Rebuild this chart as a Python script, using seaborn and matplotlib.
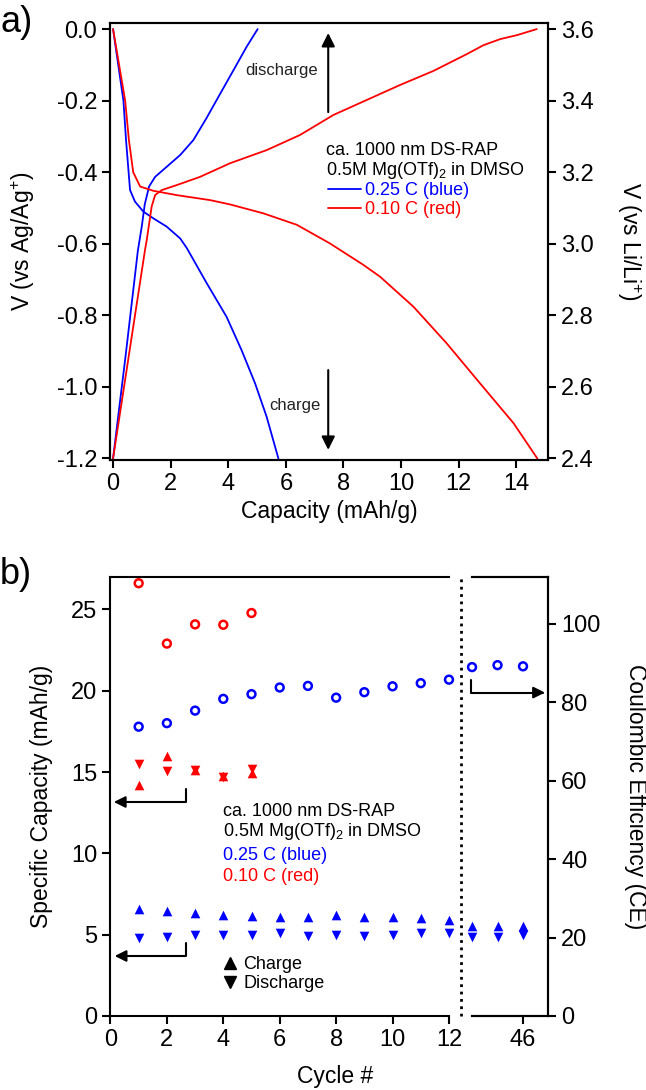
import numpy as np
import pandas as pd
import matplotlib
matplotlib.use("Agg")
import matplotlib.pyplot as plt
from matplotlib.lines import Line2D
import seaborn as sns

# ---- panel a) galvanostatic curves (mAh/g, V vs Ag/Ag+) ----
blue_chg_cap = [0.0, 0.36, 0.45, 0.59, 0.76, 1.05, 1.40, 1.86, 2.33, 2.56, 3.25, 3.94, 4.46, 4.93, 5.33, 5.74]
blue_chg_v = [0.0, -0.20, -0.31, -0.45, -0.482, -0.51, -0.529, -0.552, -0.585, -0.612, -0.71, -0.804, -0.897, -0.99, -1.083, -1.20]
blue_dis_cap = [0.0, 0.44, 0.86, 1.0, 1.1, 1.25, 1.46, 1.86, 2.33, 2.79, 3.25, 3.71, 4.18, 4.64, 5.02]
blue_dis_v = [-1.20, -0.91, -0.62, -0.55, -0.49, -0.44, -0.413, -0.385, -0.352, -0.31, -0.248, -0.182, -0.115, -0.049, 0.0]
red_chg_cap = [0.0, 0.42, 0.55, 0.70, 0.94, 1.40, 2.21, 3.37, 4.06, 5.22, 6.38, 7.53, 8.69, 9.27, 10.43, 11.58, 12.74, 13.90, 14.73]
red_chg_v = [0.0, -0.20, -0.31, -0.40, -0.44, -0.452, -0.464, -0.478, -0.49, -0.515, -0.547, -0.599, -0.659, -0.692, -0.776, -0.878, -0.99, -1.101, -1.20]
red_dis_cap = [0.0, 1.11, 1.17, 1.34, 1.46, 1.69, 2.21, 3.02, 4.06, 5.34, 6.49, 7.65, 8.81, 9.97, 11.12, 12.28, 12.86, 13.44, 14.02, 14.71]
red_dis_v = [-1.20, -0.617, -0.589, -0.496, -0.464, -0.45, -0.436, -0.413, -0.375, -0.338, -0.296, -0.24, -0.198, -0.156, -0.117, -0.07, -0.045, -0.028, -0.017, 0.0]

# ---- panel b) cycling data ----
cycles = list(range(1, 13))
cycles_late = [44, 45, 46]
blue_ce = [73.8, 74.7, 77.9, 80.9, 82.1, 83.8, 84.2, 81.2, 82.6, 84.1, 84.9, 85.8]
blue_ce_late = [89.0, 89.5, 89.2]
blue_charge = [6.55, 6.47, 6.31, 6.2, 6.16, 6.1, 6.1, 6.2, 6.06, 6.06, 6.0, 5.9]
blue_charge_late = [5.55, 5.55, 5.55]
blue_discharge = [4.77, 4.87, 4.97, 4.97, 5.0, 5.08, 4.93, 4.97, 4.91, 4.97, 5.08, 5.08]
blue_discharge_late = [4.87, 4.83, 4.95]
red_cycles = [1, 2, 3, 4, 5]
red_ce = [110.4, 95.0, 99.9, 99.8, 102.8]
red_charge = [14.19, 15.97, 15.15, 14.75, 14.95]
red_discharge = [15.52, 15.07, 15.15, 14.70, 15.2]

v_ag_ticks = ["-1.2", "-1.0", "-0.8", "-0.6", "-0.4", "-0.2", "0.0"]
v_li_ticks = ["2.4", "2.6", "2.8", "3.0", "3.2", "3.4", "3.6"]

BLUE = "#0000ff"
RED = "#ff0000"

sns.set_style("ticks")
plt.rcParams["font.family"] = ["Liberation Sans", "DejaVu Sans"]
plt.rcParams["mathtext.fontset"] = "custom"
plt.rcParams["mathtext.rm"] = "Liberation Sans"
plt.rcParams["mathtext.it"] = "Liberation Sans:italic"
plt.rcParams["axes.unicode_minus"] = False
plt.rcParams["axes.edgecolor"] = "black"
plt.rcParams["axes.linewidth"] = 1.5
plt.rcParams["text.color"] = "black"
plt.rcParams["axes.labelcolor"] = "black"
for k in ["xtick", "ytick"]:
    plt.rcParams[k + ".color"] = "black"
    plt.rcParams[k + ".labelcolor"] = "black"
    plt.rcParams[k + ".major.width"] = 1.5
    plt.rcParams[k + ".major.size"] = 6
    plt.rcParams[k + ".labelsize"] = 17
    plt.rcParams[k + ".direction"] = "out"

fig = plt.figure(figsize=(6.46, 10.9), dpi=100)

# ================= panel a =================
ax_a = fig.add_axes([0.171, 0.5784, 0.6773, 0.4005])
ax_a2 = ax_a.twinx()

sns.lineplot(x=blue_chg_cap, y=blue_chg_v, sort=False, estimator=None, color=BLUE, lw=1.3, ax=ax_a)
sns.lineplot(x=blue_dis_cap, y=blue_dis_v, sort=False, estimator=None, color=BLUE, lw=1.3, ax=ax_a)
sns.lineplot(x=red_chg_cap, y=red_chg_v, sort=False, estimator=None, color=RED, lw=1.3, ax=ax_a)
sns.lineplot(x=red_dis_cap, y=red_dis_v, sort=False, estimator=None, color=RED, lw=1.3, ax=ax_a)

ax_a.set_xlim(-0.09, 15.1)
ax_a.set_ylim(-1.203, 0.017)
ax_a2.set_ylim(-1.203 + 3.6, 0.017 + 3.6)
ax_a.set_xticks(np.arange(0, 15, 2))
ax_a.set_yticks([float(t) for t in v_ag_ticks])
ax_a.set_yticklabels(v_ag_ticks)
ax_a2.set_yticks([float(t) for t in v_li_ticks])
ax_a2.set_yticklabels(v_li_ticks)
ax_a.set_xlabel("Capacity (mAh/g)", fontsize=16.5, labelpad=4)
ax_a.set_ylabel("V (vs Ag/Ag$^{+}$)", fontsize=16.5, labelpad=14)
ax_a2.set_ylabel("V (vs Li/Li$^{+}$)", fontsize=16.5, rotation=270, va="bottom", labelpad=15)

# arrows and notes
ax_a.annotate("", xy=(7.47, -0.011), xytext=(7.47, -0.232),
              arrowprops=dict(arrowstyle="-|>", color="k", lw=1.5, mutation_scale=20, shrinkA=0, shrinkB=0))
ax_a.annotate("", xy=(7.47, -1.176), xytext=(7.47, -0.953),
              arrowprops=dict(arrowstyle="-|>", color="k", lw=1.5, mutation_scale=20, shrinkA=0, shrinkB=0))
ax_a.text(7.12, -0.117, "discharge", ha="right", va="center", fontsize=12, color="#222222")
ax_a.text(7.19, -1.053, "charge", ha="right", va="center", fontsize=12, color="#222222")
ax_a.text(7.40, -0.338, "ca. 1000 nm DS-RAP", ha="left", va="center", fontsize=13)
ax_a.text(7.40, -0.394, "0.5M Mg(OTf)$_2$ in DMSO", ha="left", va="center", fontsize=13)
handles = [Line2D([], [], color=BLUE, lw=1.3), Line2D([], [], color=RED, lw=1.3)]
ax_a.legend(handles, ["0.25 C (blue)", "0.10 C (red)"], labelcolor=[BLUE, RED], frameon=False,
            loc="upper left", bbox_to_anchor=(7.47, -0.428), bbox_transform=ax_a.transData,
            borderpad=0, borderaxespad=0, handlelength=1.8, handletextpad=0.25,
            labelspacing=0.12, fontsize=13)

# ================= panel b =================
ax_l = fig.add_axes([0.171, 0.0679, 0.5240, 0.4028])
ax_r = fig.add_axes([0.7307, 0.0679, 0.1176, 0.4028], sharey=ax_l)
ax_ce_l = ax_l.twinx()
ax_ce_r = ax_r.twinx()

tri = dict(s=48, linewidth=0, clip_on=False, zorder=3)
circ = dict(marker="o", s=32, facecolor="none", linewidth=1.8, clip_on=False, zorder=3)

sns.scatterplot(x=cycles, y=blue_charge, marker="^", color=BLUE, ax=ax_l, **tri)
sns.scatterplot(x=cycles, y=blue_discharge, marker="v", color=BLUE, ax=ax_l, **tri)
sns.scatterplot(x=red_cycles, y=red_charge, marker="^", color=RED, ax=ax_l, **tri)
sns.scatterplot(x=red_cycles, y=red_discharge, marker="v", color=RED, ax=ax_l, **tri)
sns.scatterplot(x=cycles_late, y=blue_charge_late, marker="^", color=BLUE, ax=ax_r, **tri)
sns.scatterplot(x=cycles_late, y=blue_discharge_late, marker="v", color=BLUE, ax=ax_r, **tri)

sns.scatterplot(x=cycles, y=blue_ce, color=BLUE, edgecolor=BLUE, ax=ax_ce_l, **circ)
sns.scatterplot(x=red_cycles, y=red_ce, color=RED, edgecolor=RED, ax=ax_ce_l, **circ)
sns.scatterplot(x=cycles_late, y=blue_ce_late, color=BLUE, edgecolor=BLUE, ax=ax_ce_r, **circ)

ax_l.set_xlim(0, 12)
ax_r.set_xlim(44, 44 + 76 / 25.5)
ax_l.set_ylim(0, 27)
ax_ce_l.set_ylim(0, 112)
ax_ce_r.set_ylim(0, 112)
ax_l.set_xticks(np.arange(0, 13, 2))
ax_r.set_xticks([46])
ax_l.set_yticks(np.arange(0, 26, 5))
ax_ce_r.set_yticks(np.arange(0, 101, 20))

ax_l.spines["right"].set_visible(False)
ax_r.spines["left"].set_visible(False)
ax_r.tick_params(left=False, labelleft=False)
for s in ax_ce_l.spines.values():
    s.set_visible(False)
ax_ce_l.tick_params(left=False, right=False, labelleft=False, labelright=False)
ax_ce_l.set_ylabel("")
ax_ce_r.spines["left"].set_visible(False)
for a in [ax_l, ax_r, ax_ce_l, ax_ce_r]:
    a.set_xlabel("")
    a.patch.set_visible(False)

ax_l.set_ylabel("Specific Capacity (mAh/g)", fontsize=16.5, labelpad=13)
ax_r.set_ylabel("")
ax_ce_r.set_ylabel("Coulombic Efficiency (CE)", fontsize=16.5, rotation=270, va="bottom", labelpad=17)
fig.text(335 / 646, 1 - 1077 / 1090, "Cycle #", ha="center", va="center", fontsize=16.5)

# axis break
ax_l.axvline(12.41, color="k", ls=":", lw=2, clip_on=False)

# bracket arrows pointing at the axes
bracket = dict(arrowstyle="-|>", color="k", lw=1.5, mutation_scale=17, shrinkA=0, shrinkB=0,
               connectionstyle="angle,angleA=90,angleB=0,rad=0")
ax_l.annotate("", xy=(0.12, 13.16), xytext=(2.66, 13.93), arrowprops=bracket)
ax_l.annotate("", xy=(0.15, 3.69), xytext=(2.66, 4.47), arrowprops=bracket)
ax_ce_r.annotate("", xy=(46.86, 82.5), xytext=(43.96, 85.7), arrowprops=bracket, annotation_clip=False)

# notes
ax_l.text(4.0, 12.55, "ca. 1000 nm DS-RAP", ha="left", va="center", fontsize=13)
ax_l.text(4.0, 11.32, "0.5M Mg(OTf)$_2$ in DMSO", ha="left", va="center", fontsize=13)
ax_l.text(4.0, 9.89, "0.25 C (blue)", ha="left", va="center", fontsize=13, color=BLUE)
ax_l.text(4.0, 8.60, "0.10 C (red)", ha="left", va="center", fontsize=13, color=RED)
tri_handles = [Line2D([], [], marker="^", ls="", color="k", markersize=8),
               Line2D([], [], marker="v", ls="", color="k", markersize=8)]
ax_l.legend(tri_handles, ["Charge", "Discharge"], frameon=False, loc="upper left",
            bbox_to_anchor=(3.98, 3.69), bbox_transform=ax_l.transData, borderpad=0,
            borderaxespad=0, handlelength=0.8, handletextpad=0.35, labelspacing=0.12, fontsize=13)

fig.text(0.0, 1 - 22 / 1090, "a)", ha="left", va="center", fontsize=26)
fig.text(0.0, 1 - 575 / 1090, "b)", ha="left", va="center", fontsize=26)

fig.savefig("out.png", dpi=100, facecolor="white")
